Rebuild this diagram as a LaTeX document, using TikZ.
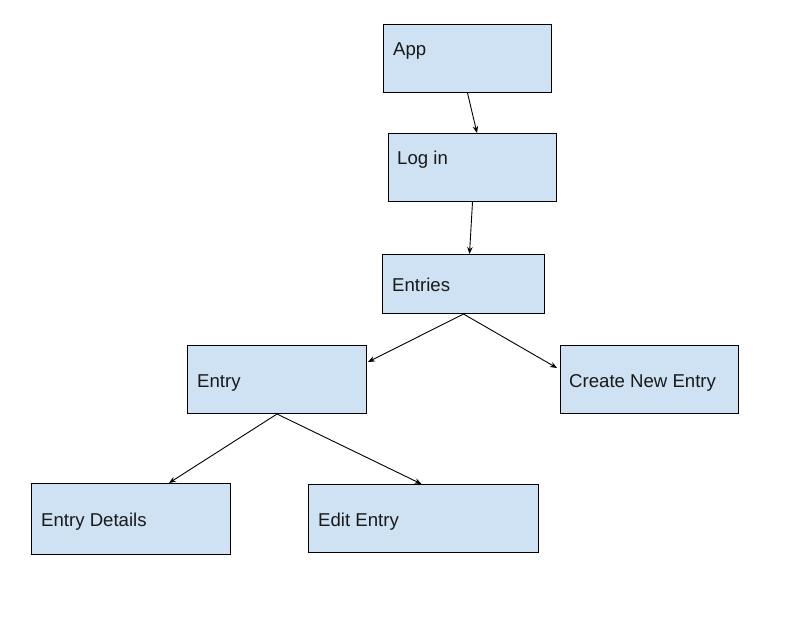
\documentclass[tikz,border=0pt]{standalone}
\usepackage{fontspec}
\setmainfont{Liberation Sans}
\usetikzlibrary{calc,arrows.meta}
\definecolor{boxfill}{HTML}{CFE2F3}
\tikzset{
  box/.style={draw=black, fill=boxfill, line width=1pt, anchor=north west, inner sep=0pt},
  txt/.style={anchor=base west, inner sep=0pt, font=\fontsize{18.6}{22}\selectfont, text=black!90},
  conn/.style={draw=black, line width=0.9pt, -{Stealth[length=7pt,width=5.5pt]}}
}
\begin{document}
\begin{tikzpicture}[x=1pt,y=-1pt]
\useasboundingbox (0,0) rectangle (796,633);
\node[box, minimum width=168pt, minimum height=68pt] (app) at (383,24) {};
\node[box, minimum width=168pt, minimum height=68pt] (login) at (388,133) {};
\node[box, minimum width=162pt, minimum height=59pt] (entries) at (382,254) {};
\node[box, minimum width=179pt, minimum height=68pt] (entry) at (187,345) {};
\node[box, minimum width=178pt, minimum height=68pt] (create) at (560,345) {};
\node[box, minimum width=199pt, minimum height=71pt] (details) at (31,483) {};
\node[box, minimum width=230pt, minimum height=68pt] (edit) at (308,484) {};

\node[txt] (appT) at (393,55) {App};
\node[txt] (loginT) at (397,164) {Log in};
\node[txt] (entriesT) at (392,291) {Entries};
\node[txt] (entryT) at (197,387) {Entry};
\node[txt] (createT) at (569,387) {Create New Entry};
\node[txt] (detailsT) at (41,526) {Entry Details};
\node[txt] (editT) at (318,526) {Edit Entry};

\draw[conn] (app.south) -- ($(login.north)+(4.5,0)$);
\draw[conn] (login.south) -- ($(entries.north)+(6,0)$);
\draw[conn] (entries.south) -- ($(entry.north east)+(1,17)$);
\draw[conn] (entries.south) -- ($(create.north west)+(-3,23)$);
\draw[conn] (entry.south) -- ($(details.north)+(38,0)$);
\draw[conn] (entry.south) -- ($(edit.north)+(-2,0)$);
\end{tikzpicture}
\end{document}
